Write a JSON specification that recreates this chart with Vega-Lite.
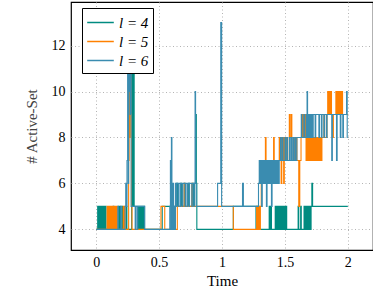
{
"$schema": "https://vega.github.io/schema/vega-lite/v6.json",
"width": 302, "height": 248,
"autosize": {"type": "none"},
"padding": {"left": 71, "top": 2, "right": 0, "bottom": 43},
"background": "white",
"config": {"view": {"stroke": "black", "strokeWidth": 1.2}, "font": "Liberation Serif"},
"data": {"values": [
{"s":"l = 4","t":0,"v":4},{"s":"l = 4","t":0.012,"v":5},{"s":"l = 4","t":0.018,"v":4},{"s":"l = 4","t":0.024,"v":5},{"s":"l = 4","t":0.03,"v":4},{"s":"l = 4","t":0.036,"v":5},{"s":"l = 4","t":0.042,"v":4},{"s":"l = 4","t":0.048,"v":5},{"s":"l = 4","t":0.054,"v":4},{"s":"l = 4","t":0.06,"v":5},{"s":"l = 4","t":0.066,"v":4},{"s":"l = 4","t":0.072,"v":5},{"s":"l = 4","t":0.078,"v":4},{"s":"l = 4","t":0.135,"v":5},{"s":"l = 4","t":0.14,"v":4},{"s":"l = 4","t":0.178,"v":5},{"s":"l = 4","t":0.182,"v":4},{"s":"l = 4","t":0.19,"v":5},{"s":"l = 4","t":0.194,"v":4},{"s":"l = 4","t":0.205,"v":5},{"s":"l = 4","t":0.21,"v":4},{"s":"l = 4","t":0.24,"v":5},{"s":"l = 4","t":0.244,"v":4},{"s":"l = 4","t":0.282,"v":11},{"s":"l = 4","t":0.288,"v":5},{"s":"l = 4","t":0.296,"v":11},{"s":"l = 4","t":0.302,"v":5},{"s":"l = 4","t":0.335,"v":4},{"s":"l = 4","t":0.34,"v":5},{"s":"l = 4","t":0.345,"v":4},{"s":"l = 4","t":0.35,"v":5},{"s":"l = 4","t":0.355,"v":4},{"s":"l = 4","t":0.36,"v":5},{"s":"l = 4","t":0.365,"v":4},{"s":"l = 4","t":0.37,"v":5},{"s":"l = 4","t":0.375,"v":4},{"s":"l = 4","t":0.38,"v":5},{"s":"l = 4","t":0.385,"v":4},{"s":"l = 4","t":0.525,"v":5},{"s":"l = 4","t":0.64,"v":6},{"s":"l = 4","t":0.646,"v":5},{"s":"l = 4","t":0.672,"v":6},{"s":"l = 4","t":0.678,"v":5},{"s":"l = 4","t":0.7,"v":6},{"s":"l = 4","t":0.706,"v":5},{"s":"l = 4","t":0.735,"v":6},{"s":"l = 4","t":0.741,"v":5},{"s":"l = 4","t":0.768,"v":6},{"s":"l = 4","t":0.775,"v":5},{"s":"l = 4","t":0.782,"v":6},{"s":"l = 4","t":0.79,"v":9},{"s":"l = 4","t":0.796,"v":6},{"s":"l = 4","t":0.8,"v":4},{"s":"l = 4","t":1.09,"v":5},{"s":"l = 4","t":1.27,"v":4},{"s":"l = 4","t":1.276,"v":5},{"s":"l = 4","t":1.282,"v":4},{"s":"l = 4","t":1.288,"v":5},{"s":"l = 4","t":1.294,"v":4},{"s":"l = 4","t":1.375,"v":5},{"s":"l = 4","t":1.381,"v":4},{"s":"l = 4","t":1.387,"v":5},{"s":"l = 4","t":1.393,"v":4},{"s":"l = 4","t":1.423,"v":5},{"s":"l = 4","t":1.43,"v":4},{"s":"l = 4","t":1.437,"v":5},{"s":"l = 4","t":1.444,"v":4},{"s":"l = 4","t":1.451,"v":5},{"s":"l = 4","t":1.458,"v":4},{"s":"l = 4","t":1.465,"v":5},{"s":"l = 4","t":1.472,"v":4},{"s":"l = 4","t":1.479,"v":5},{"s":"l = 4","t":1.486,"v":4},{"s":"l = 4","t":1.493,"v":5},{"s":"l = 4","t":1.5,"v":4},{"s":"l = 4","t":1.507,"v":5},{"s":"l = 4","t":1.514,"v":4},{"s":"l = 4","t":1.605,"v":5},{"s":"l = 4","t":1.61,"v":4},{"s":"l = 4","t":1.625,"v":5},{"s":"l = 4","t":1.63,"v":4},{"s":"l = 4","t":1.652,"v":5},{"s":"l = 4","t":1.659,"v":4},{"s":"l = 4","t":1.666,"v":5},{"s":"l = 4","t":1.673,"v":4},{"s":"l = 4","t":1.68,"v":5},{"s":"l = 4","t":1.687,"v":4},{"s":"l = 4","t":1.694,"v":5},{"s":"l = 4","t":1.701,"v":4},{"s":"l = 4","t":1.708,"v":5},{"s":"l = 4","t":1.714,"v":6},{"s":"l = 4","t":1.72,"v":5},{"s":"l = 4","t":2.0,"v":5},
{"s":"l = 5","t":0,"v":4},{"s":"l = 5","t":0.087,"v":5},{"s":"l = 5","t":0.094,"v":4},{"s":"l = 5","t":0.1,"v":5},{"s":"l = 5","t":0.107,"v":4},{"s":"l = 5","t":0.113,"v":5},{"s":"l = 5","t":0.12,"v":4},{"s":"l = 5","t":0.126,"v":5},{"s":"l = 5","t":0.133,"v":4},{"s":"l = 5","t":0.139,"v":5},{"s":"l = 5","t":0.146,"v":4},{"s":"l = 5","t":0.152,"v":5},{"s":"l = 5","t":0.159,"v":4},{"s":"l = 5","t":0.165,"v":5},{"s":"l = 5","t":0.168,"v":4},{"s":"l = 5","t":0.215,"v":5},{"s":"l = 5","t":0.222,"v":4},{"s":"l = 5","t":0.226,"v":5},{"s":"l = 5","t":0.23,"v":4},{"s":"l = 5","t":0.258,"v":7},{"s":"l = 5","t":0.262,"v":11},{"s":"l = 5","t":0.266,"v":8},{"s":"l = 5","t":0.27,"v":11},{"s":"l = 5","t":0.275,"v":9},{"s":"l = 5","t":0.28,"v":5},{"s":"l = 5","t":0.285,"v":4},{"s":"l = 5","t":0.515,"v":5},{"s":"l = 5","t":0.545,"v":4},{"s":"l = 5","t":0.645,"v":5},{"s":"l = 5","t":0.7,"v":6},{"s":"l = 5","t":0.705,"v":5},{"s":"l = 5","t":0.76,"v":6},{"s":"l = 5","t":0.765,"v":5},{"s":"l = 5","t":1.09,"v":4},{"s":"l = 5","t":1.275,"v":5},{"s":"l = 5","t":1.28,"v":4},{"s":"l = 5","t":1.285,"v":5},{"s":"l = 5","t":1.29,"v":4},{"s":"l = 5","t":1.295,"v":5},{"s":"l = 5","t":1.3,"v":4},{"s":"l = 5","t":1.305,"v":5},{"s":"l = 5","t":1.312,"v":6},{"s":"l = 5","t":1.33,"v":7},{"s":"l = 5","t":1.335,"v":6},{"s":"l = 5","t":1.345,"v":8},{"s":"l = 5","t":1.35,"v":6},{"s":"l = 5","t":1.37,"v":7},{"s":"l = 5","t":1.375,"v":6},{"s":"l = 5","t":1.41,"v":8},{"s":"l = 5","t":1.415,"v":7},{"s":"l = 5","t":1.43,"v":6},{"s":"l = 5","t":1.435,"v":7},{"s":"l = 5","t":1.455,"v":8},{"s":"l = 5","t":1.46,"v":7},{"s":"l = 5","t":1.465,"v":8},{"s":"l = 5","t":1.47,"v":6},{"s":"l = 5","t":1.475,"v":8},{"s":"l = 5","t":1.48,"v":7},{"s":"l = 5","t":1.485,"v":8},{"s":"l = 5","t":1.49,"v":6},{"s":"l = 5","t":1.495,"v":8},{"s":"l = 5","t":1.5,"v":7},{"s":"l = 5","t":1.505,"v":8},{"s":"l = 5","t":1.51,"v":7},{"s":"l = 5","t":1.515,"v":8},{"s":"l = 5","t":1.52,"v":7},{"s":"l = 5","t":1.535,"v":9},{"s":"l = 5","t":1.54,"v":8},{"s":"l = 5","t":1.55,"v":9},{"s":"l = 5","t":1.555,"v":7},{"s":"l = 5","t":1.57,"v":8},{"s":"l = 5","t":1.575,"v":7},{"s":"l = 5","t":1.59,"v":8},{"s":"l = 5","t":1.595,"v":7},{"s":"l = 5","t":1.61,"v":5},{"s":"l = 5","t":1.618,"v":7},{"s":"l = 5","t":1.628,"v":8},{"s":"l = 5","t":1.634,"v":9},{"s":"l = 5","t":1.64,"v":8},{"s":"l = 5","t":1.646,"v":9},{"s":"l = 5","t":1.652,"v":8},{"s":"l = 5","t":1.658,"v":9},{"s":"l = 5","t":1.664,"v":8},{"s":"l = 5","t":1.668,"v":7},{"s":"l = 5","t":1.674,"v":8},{"s":"l = 5","t":1.68,"v":7},{"s":"l = 5","t":1.686,"v":8},{"s":"l = 5","t":1.692,"v":7},{"s":"l = 5","t":1.698,"v":8},{"s":"l = 5","t":1.704,"v":7},{"s":"l = 5","t":1.71,"v":8},{"s":"l = 5","t":1.716,"v":7},{"s":"l = 5","t":1.722,"v":8},{"s":"l = 5","t":1.728,"v":7},{"s":"l = 5","t":1.734,"v":8},{"s":"l = 5","t":1.74,"v":7},{"s":"l = 5","t":1.746,"v":8},{"s":"l = 5","t":1.752,"v":7},{"s":"l = 5","t":1.758,"v":8},{"s":"l = 5","t":1.764,"v":7},{"s":"l = 5","t":1.77,"v":8},{"s":"l = 5","t":1.776,"v":7},{"s":"l = 5","t":1.782,"v":8},{"s":"l = 5","t":1.788,"v":7},{"s":"l = 5","t":1.794,"v":8},{"s":"l = 5","t":1.81,"v":9},{"s":"l = 5","t":1.815,"v":8},{"s":"l = 5","t":1.834,"v":9},{"s":"l = 5","t":1.84,"v":10},{"s":"l = 5","t":1.846,"v":9},{"s":"l = 5","t":1.852,"v":10},{"s":"l = 5","t":1.858,"v":9},{"s":"l = 5","t":1.864,"v":10},{"s":"l = 5","t":1.87,"v":9},{"s":"l = 5","t":1.88,"v":8},{"s":"l = 5","t":1.885,"v":9},{"s":"l = 5","t":1.905,"v":10},{"s":"l = 5","t":1.911,"v":9},{"s":"l = 5","t":1.917,"v":10},{"s":"l = 5","t":1.923,"v":9},{"s":"l = 5","t":1.929,"v":10},{"s":"l = 5","t":1.935,"v":9},{"s":"l = 5","t":1.941,"v":10},{"s":"l = 5","t":1.947,"v":9},{"s":"l = 5","t":1.953,"v":10},{"s":"l = 5","t":1.958,"v":9},{"s":"l = 5","t":2.0,"v":9},
{"s":"l = 6","t":0,"v":4},{"s":"l = 6","t":0.172,"v":5},{"s":"l = 6","t":0.176,"v":4},{"s":"l = 6","t":0.196,"v":5},{"s":"l = 6","t":0.2,"v":4},{"s":"l = 6","t":0.23,"v":5},{"s":"l = 6","t":0.235,"v":6},{"s":"l = 6","t":0.24,"v":5},{"s":"l = 6","t":0.245,"v":7},{"s":"l = 6","t":0.25,"v":11},{"s":"l = 6","t":0.255,"v":6},{"s":"l = 6","t":0.258,"v":11},{"s":"l = 6","t":0.262,"v":10},{"s":"l = 6","t":0.266,"v":11},{"s":"l = 6","t":0.27,"v":9},{"s":"l = 6","t":0.274,"v":11},{"s":"l = 6","t":0.278,"v":5},{"s":"l = 6","t":0.31,"v":4},{"s":"l = 6","t":0.314,"v":5},{"s":"l = 6","t":0.325,"v":4},{"s":"l = 6","t":0.33,"v":5},{"s":"l = 6","t":0.385,"v":4},{"s":"l = 6","t":0.585,"v":5},{"s":"l = 6","t":0.59,"v":7},{"s":"l = 6","t":0.594,"v":4},{"s":"l = 6","t":0.598,"v":8},{"s":"l = 6","t":0.602,"v":5},{"s":"l = 6","t":0.606,"v":4},{"s":"l = 6","t":0.61,"v":6},{"s":"l = 6","t":0.615,"v":4},{"s":"l = 6","t":0.62,"v":5},{"s":"l = 6","t":0.625,"v":4},{"s":"l = 6","t":0.63,"v":6},{"s":"l = 6","t":0.635,"v":5},{"s":"l = 6","t":0.64,"v":6},{"s":"l = 6","t":0.652,"v":5},{"s":"l = 6","t":0.656,"v":6},{"s":"l = 6","t":0.668,"v":5},{"s":"l = 6","t":0.672,"v":6},{"s":"l = 6","t":0.684,"v":5},{"s":"l = 6","t":0.688,"v":6},{"s":"l = 6","t":0.706,"v":5},{"s":"l = 6","t":0.71,"v":6},{"s":"l = 6","t":0.722,"v":5},{"s":"l = 6","t":0.726,"v":6},{"s":"l = 6","t":0.738,"v":5},{"s":"l = 6","t":0.742,"v":6},{"s":"l = 6","t":0.76,"v":5},{"s":"l = 6","t":0.764,"v":6},{"s":"l = 6","t":0.776,"v":5},{"s":"l = 6","t":0.78,"v":6},{"s":"l = 6","t":0.786,"v":10},{"s":"l = 6","t":0.79,"v":6},{"s":"l = 6","t":0.795,"v":5},{"s":"l = 6","t":0.965,"v":6},{"s":"l = 6","t":0.99,"v":13},{"s":"l = 6","t":0.997,"v":5},{"s":"l = 6","t":1.163,"v":6},{"s":"l = 6","t":1.17,"v":5},{"s":"l = 6","t":1.29,"v":6},{"s":"l = 6","t":1.296,"v":7},{"s":"l = 6","t":1.303,"v":6},{"s":"l = 6","t":1.31,"v":7},{"s":"l = 6","t":1.315,"v":5},{"s":"l = 6","t":1.32,"v":7},{"s":"l = 6","t":1.327,"v":6},{"s":"l = 6","t":1.334,"v":7},{"s":"l = 6","t":1.341,"v":6},{"s":"l = 6","t":1.348,"v":7},{"s":"l = 6","t":1.353,"v":5},{"s":"l = 6","t":1.358,"v":7},{"s":"l = 6","t":1.365,"v":6},{"s":"l = 6","t":1.372,"v":7},{"s":"l = 6","t":1.379,"v":6},{"s":"l = 6","t":1.386,"v":7},{"s":"l = 6","t":1.393,"v":5},{"s":"l = 6","t":1.398,"v":7},{"s":"l = 6","t":1.405,"v":6},{"s":"l = 6","t":1.412,"v":7},{"s":"l = 6","t":1.419,"v":6},{"s":"l = 6","t":1.426,"v":7},{"s":"l = 6","t":1.433,"v":6},{"s":"l = 6","t":1.44,"v":7},{"s":"l = 6","t":1.447,"v":6},{"s":"l = 6","t":1.455,"v":7},{"s":"l = 6","t":1.465,"v":8},{"s":"l = 6","t":1.47,"v":7},{"s":"l = 6","t":1.48,"v":8},{"s":"l = 6","t":1.485,"v":7},{"s":"l = 6","t":1.5,"v":8},{"s":"l = 6","t":1.505,"v":7},{"s":"l = 6","t":1.515,"v":8},{"s":"l = 6","t":1.52,"v":7},{"s":"l = 6","t":1.535,"v":8},{"s":"l = 6","t":1.54,"v":7},{"s":"l = 6","t":1.55,"v":8},{"s":"l = 6","t":1.555,"v":7},{"s":"l = 6","t":1.565,"v":8},{"s":"l = 6","t":1.57,"v":7},{"s":"l = 6","t":1.58,"v":8},{"s":"l = 6","t":1.585,"v":7},{"s":"l = 6","t":1.595,"v":8},{"s":"l = 6","t":1.63,"v":9},{"s":"l = 6","t":1.635,"v":8},{"s":"l = 6","t":1.65,"v":9},{"s":"l = 6","t":1.655,"v":8},{"s":"l = 6","t":1.668,"v":9},{"s":"l = 6","t":1.672,"v":8},{"s":"l = 6","t":1.676,"v":10},{"s":"l = 6","t":1.68,"v":8},{"s":"l = 6","t":1.685,"v":9},{"s":"l = 6","t":1.69,"v":8},{"s":"l = 6","t":1.695,"v":9},{"s":"l = 6","t":1.7,"v":8},{"s":"l = 6","t":1.705,"v":9},{"s":"l = 6","t":1.71,"v":8},{"s":"l = 6","t":1.715,"v":9},{"s":"l = 6","t":1.72,"v":8},{"s":"l = 6","t":1.725,"v":9},{"s":"l = 6","t":1.74,"v":8},{"s":"l = 6","t":1.745,"v":9},{"s":"l = 6","t":1.77,"v":8},{"s":"l = 6","t":1.775,"v":9},{"s":"l = 6","t":1.79,"v":8},{"s":"l = 6","t":1.795,"v":9},{"s":"l = 6","t":1.81,"v":8},{"s":"l = 6","t":1.815,"v":9},{"s":"l = 6","t":1.83,"v":8},{"s":"l = 6","t":1.835,"v":9},{"s":"l = 6","t":1.872,"v":7},{"s":"l = 6","t":1.877,"v":9},{"s":"l = 6","t":1.91,"v":7},{"s":"l = 6","t":1.915,"v":9},{"s":"l = 6","t":1.94,"v":8},{"s":"l = 6","t":1.945,"v":9},{"s":"l = 6","t":1.96,"v":8},{"s":"l = 6","t":1.965,"v":9},{"s":"l = 6","t":1.99,"v":10},{"s":"l = 6","t":1.995,"v":8},{"s":"l = 6","t":2.0,"v":8}
]},
"mark": {"type": "line", "interpolate": "step-after", "strokeWidth": 1.1, "clip": true},
"encoding": {
"x": {"field": "t", "type": "quantitative", "scale": {"domain": [-0.2, 2.2], "nice": false, "zero": false},
 "axis": {"values": [0, 0.5, 1, 1.5, 2], "format": "~g", "title": "Time", "domain": false, "ticks": false, "labelPadding": 5, "labelFont": "Liberation Serif", "labelFontSize": 14, "labelColor": "black", "titleFont": "Liberation Serif", "titleFontSize": 15, "titleFontWeight": "normal", "titleColor": "black", "titlePadding": 4, "gridDash": [1, 2.5], "gridColor": "#b4b4b4", "gridWidth": 1}},
"y": {"field": "v", "type": "quantitative", "scale": {"domain": [3.1, 13.9], "nice": false, "zero": false},
 "axis": {"values": [4, 6, 8, 10, 12], "format": "~g", "title": "# Active-Set", "domain": false, "ticks": false, "labelPadding": 6, "labelFont": "Liberation Serif", "labelFontSize": 14, "labelColor": "black", "titleFont": "Liberation Serif", "titleFontSize": 15, "titleFontWeight": "normal", "titleColor": "#444444", "titlePadding": 12, "gridDash": [1, 2.5], "gridColor": "#b4b4b4", "gridWidth": 1}},
"color": {"field": "s", "type": "nominal", "scale": {"domain": ["l = 4", "l = 5", "l = 6"], "range": ["#008b80", "#ff8000", "#3a8cb0"]},
 "legend": {"orient": "none", "legendX": 11, "legendY": 6, "title": null, "fillColor": "white", "strokeColor": "black", "padding": 4, "symbolType": "M-1.4,0H1.4", "symbolSize": 361, "symbolStrokeWidth": 1.5, "symbolOffset": 4, "labelFontSize": 15, "labelFontStyle": "italic", "labelFont": "Liberation Serif", "labelColor": "black", "rowPadding": 0, "labelOffset": 8}}
}
}
